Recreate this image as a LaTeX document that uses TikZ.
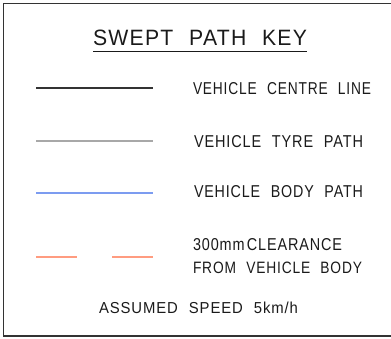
\documentclass[tikz,border=0pt]{standalone}
\usepackage{fontspec}
\setmainfont{Liberation Sans}[LetterSpace=6,WordSpace=2.2]
\usepackage{graphicx}
\definecolor{frameC}{HTML}{333333}
\definecolor{centreC}{HTML}{333333}
\definecolor{tyreC}{HTML}{A8A8A8}
\definecolor{bodyC}{HTML}{7C9CF0}
\definecolor{clearC}{HTML}{FF9C80}
\definecolor{textC}{HTML}{1A1A1A}
\begin{document}
\begin{tikzpicture}[x=1pt,y=-1pt,
  lbl/.style={anchor=base west,inner sep=0pt,outer sep=0pt,text=textC},
  keyline/.style={line width=1.6pt}]
\useasboundingbox (0,0) rectangle (391,338);
\draw[frameC,line width=1.4pt] (3.5,3.5) rectangle (400,336);
% title
\node[lbl] (title) at (93,45.7) {\resizebox{214pt}{15.5pt}{SWEPT PATH KEY}};
\draw[textC,line width=1.1pt] (title.south west) ++(0,6) coordinate (ul1) -- ([yshift=-6pt]title.south east);
% key lines
\coordinate (c1a) at (36,88); \coordinate (c1b) at (153,88);
\draw[keyline,centreC] (c1a) -- (c1b);
\coordinate (t1a) at (36,141); \coordinate (t1b) at (153,141);
\draw[keyline,tyreC] (t1a) -- (t1b);
\coordinate (b1a) at (36,193); \coordinate (b1b) at (153,193);
\draw[keyline,bodyC] (b1a) -- (b1b);
\coordinate (d1a) at (36,257); \coordinate (d1b) at (77,257);
\coordinate (d2a) at (112,257); \coordinate (d2b) at (153,257);
\draw[keyline,clearC] (d1a) -- (d1b);
\draw[keyline,clearC] (d2a) -- (d2b);
% labels
\node[lbl] (lcentre) at (193,94) {\resizebox{178pt}{12pt}{VEHICLE CENTRE LINE}};
\node[lbl] (ltyre) at (194,147) {\resizebox{169pt}{12pt}{VEHICLE TYRE PATH}};
\node[lbl] (lbody) at (194,197) {\resizebox{169pt}{12pt}{VEHICLE BODY PATH}};
\node[lbl] (lclear) at (193,250) {\resizebox{149pt}{12pt}{300mm\,CLEARANCE}};
\node[lbl] (lfrom) at (193,273.5) {\resizebox{169pt}{11.5pt}{FROM VEHICLE BODY}};
\node[lbl] (lspeed) at (99,313.5) {\resizebox{199pt}{11.5pt}{ASSUMED SPEED 5km/h}};
\end{tikzpicture}
\end{document}
